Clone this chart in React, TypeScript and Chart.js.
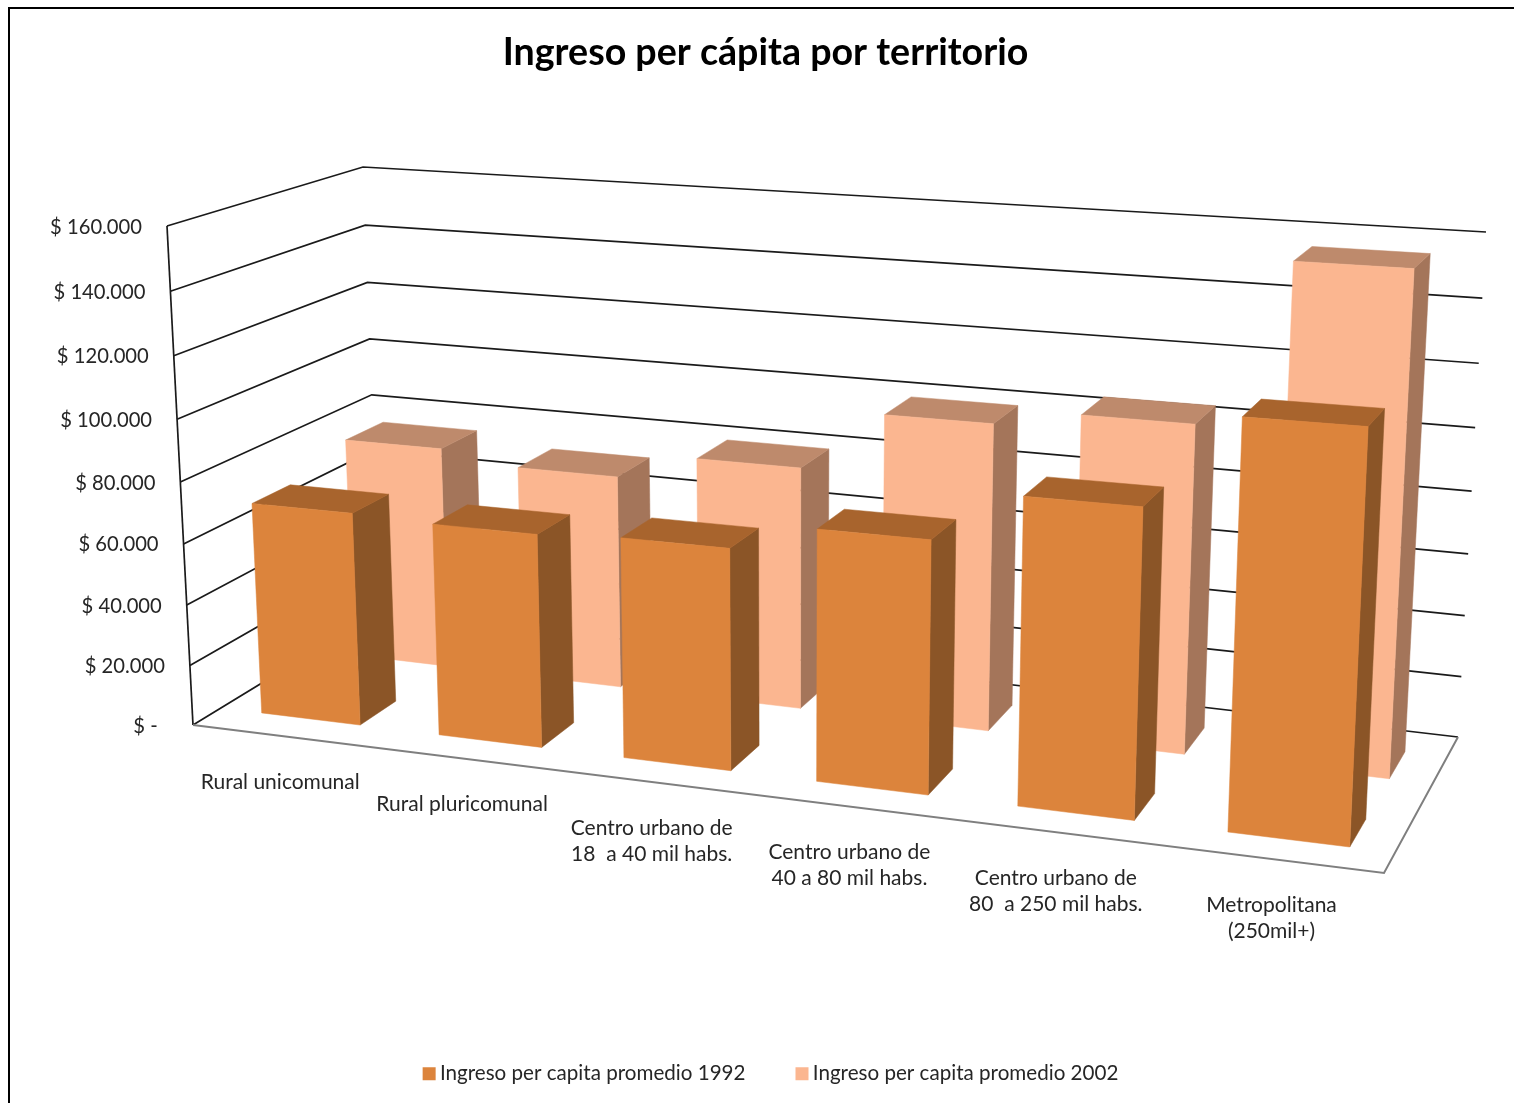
import React, { useEffect, useRef } from "react";
import { Chart, registerables } from "chart.js";

Chart.register(...registerables);

const categories: (string | string[])[] = [
  "Rural unicomunal",
  "Rural pluricomunal",
  ["Centro urbano de", "18  a 40 mil habs."],
  ["Centro urbano de", "40 a 80 mil habs."],
  ["Centro urbano de", "80  a 250 mil habs."],
  ["Metropolitana", "(250mil+)"],
];
const series1992 = [70000, 69000, 70500, 79000, 94500, 122700];
const series2002 = [76000, 72000, 80500, 100000, 105000, 156000];
const seriesNames = ["Ingreso per capita promedio 1992", "Ingreso per capita promedio 2002"];
const titleText = "Ingreso per cápita por territorio";
const FONT = "Lato";

type Pt = [number, number];
// Corners of the 3D box on the canvas
const FL: Pt = [193, 725];
const FR: Pt = [1384, 873];
const BR: Pt = [1458, 737];
const BL: Pt = [380, 611];
const TFL: Pt = [167, 226];
const TFR: Pt = [1410, 306];
const TBR: Pt = [1486, 232];
const TBL: Pt = [363, 167];
const WU = 0.88;
const WV = 0.949;
const BAR_SHIFT = 0.0025;

const warp = (t: number, w: number) => (t * w) / (1 + t * (w - 1));

function project(u: number, d: number, v: number): Pt {
  const a = warp(u, WU);
  const c = warp(v, WV);
  const comp = (i: 0 | 1) =>
    (1 - c) * ((1 - d) * ((1 - a) * FL[i] + a * FR[i]) + d * ((1 - a) * BL[i] + a * BR[i])) +
    c * ((1 - d) * ((1 - a) * TFL[i] + a * TFR[i]) + d * ((1 - a) * TBL[i] + a * TBR[i]));
  return [comp(0), comp(1)];
}

// Each dataset is one row of the 3D chart: [front face depth, back face depth]
const rows: [number, number][] = [
  [0.15, 0.355],
  [0.655, 0.855],
];
const faceColors = [
  { front: "#DC843C", side: "#8B5527", top: "#A8642D" },
  { front: "#FBB690", side: "#A4755A", top: "#BE8A6C" },
];

function poly(ctx: CanvasRenderingContext2D, pts: Pt[], fill: string) {
  ctx.beginPath();
  pts.forEach((p, i) => (i ? ctx.lineTo(p[0], p[1]) : ctx.moveTo(p[0], p[1])));
  ctx.closePath();
  ctx.fillStyle = fill;
  ctx.fill();
  ctx.strokeStyle = fill;
  ctx.lineWidth = 0.5;
  ctx.stroke();
}
function line(ctx: CanvasRenderingContext2D, pts: Pt[], color: string, w: number) {
  ctx.beginPath();
  pts.forEach((p, i) => (i ? ctx.lineTo(p[0], p[1]) : ctx.moveTo(p[0], p[1])));
  ctx.strokeStyle = color;
  ctx.lineWidth = w;
  ctx.lineJoin = "miter";
  ctx.stroke();
}

const threeD = {
  id: "threeD",
  afterLayout(chart: any) {
    // legend centre sits slightly right of the title centre
    if (chart.legend) {
      chart.legend.left += 8;
      chart.legend.right += 8;
    }
  },
  beforeDraw(chart: any) {
    const { ctx } = chart;
    ctx.save();
    ctx.fillStyle = "#fff";
    ctx.fillRect(0, 0, chart.width, chart.height);
    ctx.strokeStyle = "#000";
    ctx.lineWidth = 2;
    ctx.beginPath();
    ctx.moveTo(9, chart.height);
    ctx.lineTo(9, 8);
    ctx.lineTo(chart.width, 8);
    ctx.stroke();
    ctx.restore();
  },
  beforeDatasetsDraw(chart: any) {
    const { ctx, chartArea: a, scales } = chart;
    const ny = (py: number) => (a.bottom - py) / (a.bottom - a.top);
    const nx = (px: number) => (px - a.left) / (a.right - a.left);
    ctx.save();

    // Walls: one gridline per y tick
    scales.y.ticks.forEach((t: any) => {
      const v = ny(scales.y.getPixelForValue(t.value));
      line(ctx, [project(0, 0, v), project(0, 1, v), project(1, 1, v)], "#1a1a1a", 1.7);
    });
    line(ctx, [project(0, 0, 0), project(0, 0, 1)], "#1a1a1a", 1.7);
    line(ctx, [project(0, 0, 0), project(1, 0, 0), project(1, 1, 0)], "#7f7f7f", 2);

    // Bars, back row first
    for (let ds = chart.data.datasets.length - 1; ds >= 0; ds--) {
      const [d0, d1] = rows[ds];
      const col = faceColors[ds];
      chart.getDatasetMeta(ds).data.forEach((el: any) => {
        const { x, y, base, width } = el.getProps(["x", "y", "base", "width"], true);
        const u0 = nx(x - width / 2) + BAR_SHIFT;
        const u1 = nx(x + width / 2) + BAR_SHIFT;
        const v0 = ny(base);
        const v1 = ny(y);
        poly(ctx, [project(u1, d0, v0), project(u1, d1, v0), project(u1, d1, v1), project(u1, d0, v1)], col.side);
        poly(ctx, [project(u0, d0, v1), project(u1, d0, v1), project(u1, d1, v1), project(u0, d1, v1)], col.top);
        poly(ctx, [project(u0, d0, v0), project(u1, d0, v0), project(u1, d0, v1), project(u0, d0, v1)], col.front);
      });
    }

    // Value axis labels along the front-left edge
    ctx.fillStyle = "#262626";
    ctx.font = `20.2px ${FONT}`;
    ctx.textAlign = "right";
    ctx.textBaseline = "middle";
    scales.y.ticks.forEach((t: any) => {
      const v = ny(scales.y.getPixelForValue(t.value));
      const p = project(0, 0, v);
      ctx.fillText(t.label, p[0] - 25, p[1] + 1);
    });

    // Category labels below the front edge
    ctx.textAlign = "center";
    ctx.font = `21px ${FONT}`;
    scales.x.ticks.forEach((t: any, i: number) => {
      const p = project(nx(scales.x.getPixelForTick(i)), 0, 0);
      const lines = Array.isArray(t.label) ? t.label : [t.label];
      lines.forEach((s: string, k: number) => ctx.fillText(s, p[0] - 1, p[1] + 46 + k * 26));
    });
    ctx.restore();
    return false;
  },
};

export default function App() {
  const ref = useRef<HTMLCanvasElement | null>(null);
  useEffect(() => {
    const chart = new Chart(ref.current as HTMLCanvasElement, {
      type: "bar",
      data: {
        labels: categories as any,
        datasets: [
          { label: seriesNames[0], data: series1992, backgroundColor: faceColors[0].front, borderWidth: 0 },
          { label: seriesNames[1], data: series2002, backgroundColor: faceColors[1].front, borderWidth: 0 },
        ],
      },
      options: {
        responsive: false,
        animation: false,
        layout: { padding: { left: 17, right: 0, top: 0, bottom: 9 } },
        datasets: { bar: { grouped: false, barPercentage: 1, categoryPercentage: 0.56 } },
        scales: {
          x: { display: false, ticks: { autoSkip: false } },
          y: {
            display: false,
            min: 0,
            max: 160000,
            ticks: {
              stepSize: 20000,
              callback: (v: any) => (v === 0 ? "$ -  " : "$ " + Number(v).toLocaleString("de-DE")),
            },
          },
        },
        plugins: {
          title: {
            display: true,
            text: titleText,
            color: "#000",
            font: { family: FONT, size: 37.6, weight: "bold" },
            padding: { top: 30, bottom: 20 },
          },
          legend: {
            display: true,
            position: "bottom",
            labels: {
              color: "#262626",
              font: { family: FONT, size: 20.6 },
              usePointStyle: true,
              pointStyle: "rect",
              boxWidth: 1,
              boxHeight: 13,
              padding: 56,
            },
          },
          tooltip: { enabled: false },
        },
      } as any,
      plugins: [threeD as any],
    });
    return () => chart.destroy();
  }, []);
  return (
    <canvas
      ref={ref}
      width={1514}
      height={1103}
      style={{ position: "fixed", left: 0, top: 0, width: 1514, height: 1103, display: "block" }}
    />
  );
}
